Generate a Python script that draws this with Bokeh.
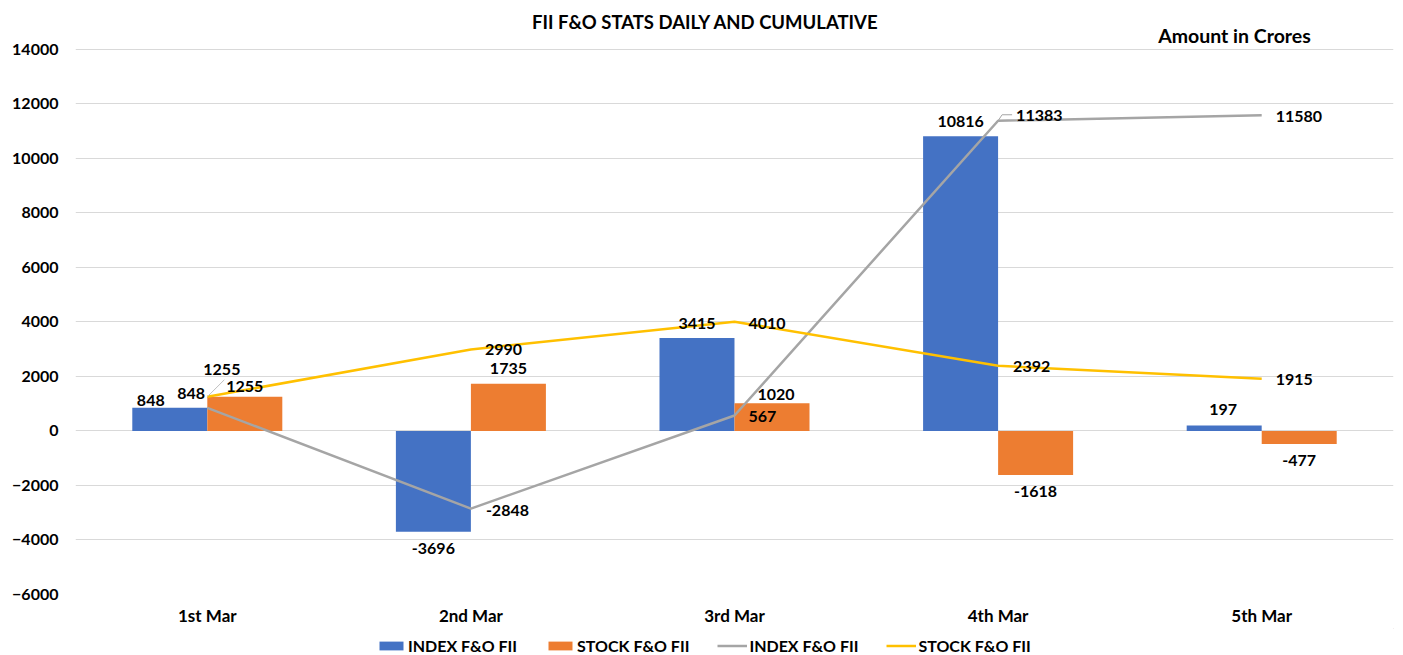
from bokeh.plotting import figure
from bokeh.layouts import column
from bokeh.models import (ColumnDataSource, FactorRange, Range1d, FixedTicker, Legend,
                          LegendItem, Label)
from bokeh.transform import dodge
from bokeh.embed import file_html
from bokeh.resources import INLINE
from bokeh.core.properties import value

# ---------------- data ----------------
categories = ["1st Mar", "2nd Mar", "3rd Mar", "4th Mar", "5th Mar"]
index_daily = [848, -3696, 3415, 10816, 197]
stock_daily = [1255, 1735, 1020, -1618, -477]
index_cum = [848, -2848, 567, 11383, 11580]
stock_cum = [1255, 2990, 4010, 2392, 1915]
y_ticks = [-6000, -4000, -2000, 0, 2000, 4000, 6000, 8000, 10000, 12000, 14000]
title_text = "FII F&O STATS DAILY AND CUMULATIVE"
unit_text = "Amount in Crores"
series_names = ["INDEX F&O FII", "STOCK F&O FII", "INDEX F&O FII", "STOCK F&O FII"]

# ---------------- styles / label placement (pixels) ----------------
BLUE, ORANGE, GRAY, YELLOW = "#4472C4", "#ED7D31", "#A5A5A5", "#FFC000"
FONT = value("Lato")
FS = "16px"
blue_dx = [-19, 0, 0, 0, -1]
blue_dy = [-7, 17, -14, -15, -16]
orange_dx = [0, 0, 4, 0, 0]
orange_dy = [-10, -15, -9, 16, 17]
gray_dx = [-30, 15, 14, 18, 14]
gray_dy = [-14, 2, 1, -5, 1]
yellow_dx = [-4, 14, 14, 15, 14]
yellow_dy = [-27, 0, 2, 1, 1]

W = 1403
H_MAIN, H_LEG = 628, 27
Y_MIN, Y_MAX = -6000, 14000
FRAME_L, FRAME_R, GRID_TOP, FRAME_B = 75, 1393, 49, 595
units_per_px = (Y_MAX - Y_MIN) / (FRAME_B - GRID_TOP)
px_per_cat = (FRAME_R - FRAME_L) / len(categories)

p = figure(x_range=FactorRange(*categories),
           y_range=Range1d(Y_MIN, Y_MAX + GRID_TOP * units_per_px),
           width=W, height=H_MAIN, output_backend="svg", toolbar_location=None,
           min_border_left=FRAME_L, min_border_right=W - FRAME_R,
           min_border_top=0, min_border_bottom=H_MAIN - FRAME_B)
p.outline_line_color = None
p.border_fill_color = "white"
p.xgrid.grid_line_color = None
p.ygrid.grid_line_color = "#D9D9D9"
p.ygrid.grid_line_width = 1
p.yaxis.ticker = FixedTicker(ticks=y_ticks)
for ax in (p.xaxis[0], p.yaxis[0]):
    ax.axis_line_color = None
    ax.major_tick_line_color = None
    ax.minor_tick_line_color = None
    ax.major_tick_in = 0
    ax.major_tick_out = 0
    ax.major_label_text_font = "Lato"
    ax.major_label_text_font_style = "bold"
    ax.major_label_text_font_size = FS
    ax.major_label_text_color = "#000000"
p.xaxis.major_label_text_font_size = "17px"
p.yaxis.major_label_standoff = 17
p.xaxis.major_label_standoff = 10

BW = 0.2845
OFF = 0.1423
src = ColumnDataSource(dict(
    cat=categories, idx=index_daily, stk=stock_daily, icum=index_cum, scum=stock_cum,
    idx_t=[str(v) for v in index_daily], stk_t=[str(v) for v in stock_daily],
    icum_t=[str(v) for v in index_cum], scum_t=[str(v) for v in stock_cum],
    bdx=blue_dx, bdy=blue_dy, odx=orange_dx, ody=orange_dy,
    gdx=gray_dx, gdy=gray_dy, ydx=yellow_dx, ydy=yellow_dy,
))

p.vbar(x=dodge("cat", -OFF, range=p.x_range), top="idx", width=BW, source=src,
       fill_color=BLUE, line_color=None)
p.vbar(x=dodge("cat", OFF, range=p.x_range), top="stk", width=BW, source=src,
       fill_color=ORANGE, line_color=None)
p.line(x="cat", y="icum", source=src, line_color=GRAY, line_width=2.5)
p.line(x="cat", y="scum", source=src, line_color=YELLOW, line_width=2.5)

# leader lines (first yellow label, fourth gray label)
p.segment(x0=dodge("x0", 0, range=p.x_range), y0="y0",
          x1=dodge("x0", 17 / px_per_cat, range=p.x_range), y1="y1",
          source=ColumnDataSource(dict(x0=[categories[0]], y0=[stock_cum[0]],
                                       y1=[stock_cum[0] + 17 * units_per_px])),
          line_color="#BFBFBF", line_width=1)
p.segment(x0=dodge("x0", 0, range=p.x_range), y0="y0",
          x1=dodge("x0", 4 / px_per_cat, range=p.x_range), y1="y1",
          source=ColumnDataSource(dict(x0=[categories[3]], y0=[index_cum[3]],
                                       y1=[index_cum[3] + 6 * units_per_px])),
          line_color=GRAY, line_width=1)
p.segment(x0=dodge("x0", 4 / px_per_cat, range=p.x_range), y0="y0",
          x1=dodge("x0", 14 / px_per_cat, range=p.x_range), y1="y0",
          source=ColumnDataSource(dict(x0=[categories[3]], y0=[index_cum[3] + 6 * units_per_px])),
          line_color=GRAY, line_width=1)

common = dict(source=src, text_font=FONT, text_font_style="bold", text_font_size=FS,
              text_color="#000000", text_baseline="middle")
p.text(x=dodge("cat", -OFF, range=p.x_range), y="idx", text="idx_t", x_offset="bdx",
       y_offset="bdy", text_align="center", **common)
p.text(x=dodge("cat", OFF, range=p.x_range), y="stk", text="stk_t", x_offset="odx",
       y_offset="ody", text_align="center", **common)
p.text(x="cat", y="icum", text="icum_t", x_offset="gdx", y_offset="gdy",
       text_align="left", **common)
p.text(x="cat", y="scum", text="scum_t", x_offset="ydx", y_offset="ydy",
       text_align="left", **common)

# title and unit note (screen px, relative to the frame's lower-left corner)
p.add_layout(Label(x=705 - FRAME_L, y=FRAME_B - 22, x_units="screen", y_units="screen",
                   text=title_text, text_font="Lato", text_font_style="bold",
                   text_font_size="18.5px", text_color="#000000",
                   text_align="center", text_baseline="middle"))
p.add_layout(Label(x=1234 - FRAME_L, y=FRAME_B - 36, x_units="screen", y_units="screen",
                   text=unit_text, text_font="Lato", text_font_style="bold",
                   text_font_size="19.5px", text_color="#000000",
                   text_align="center", text_baseline="middle"))

# ---------------- legend strip ----------------
lg = figure(width=W, height=H_LEG, output_backend="svg", toolbar_location=None,
            x_range=Range1d(0, 1), y_range=Range1d(0, 1),
            x_axis_type=None, y_axis_type=None,
            min_border_left=0, min_border_right=0, min_border_top=0, min_border_bottom=0)
lg.outline_line_color = None
lg.xgrid.grid_line_color = None
lg.ygrid.grid_line_color = None
# swatch renderers, placed outside the visible range so only the legend shows them
e_b = lg.vbar(x=[5], top=[6], bottom=[5], width=0.1, fill_color=BLUE, line_color=None)
e_o = lg.vbar(x=[5], top=[6], bottom=[5], width=0.1, fill_color=ORANGE, line_color=None)
e_g = lg.line(x=[5, 6], y=[5, 5], line_color=GRAY, line_width=2.5)
e_y = lg.line(x=[5, 6], y=[5, 5], line_color=YELLOW, line_width=2.5)
legend = Legend(items=[LegendItem(label=series_names[0], renderers=[e_b]),
                       LegendItem(label=series_names[1], renderers=[e_o]),
                       LegendItem(label=series_names[2], renderers=[e_g]),
                       LegendItem(label=series_names[3], renderers=[e_y])],
                orientation="horizontal", location=(376 - FRAME_L, 0),
                glyph_width=30, glyph_height=11, label_standoff=2, spacing=28,
                padding=0, margin=0, border_line_color=None, background_fill_alpha=0,
                label_text_font="Lato", label_text_font_style="bold",
                label_text_font_size=FS, label_text_color="#000000", label_height=14)
lg.add_layout(legend, "center")

open("out.html", "w").write(file_html(column(p, lg, spacing=0), INLINE))
